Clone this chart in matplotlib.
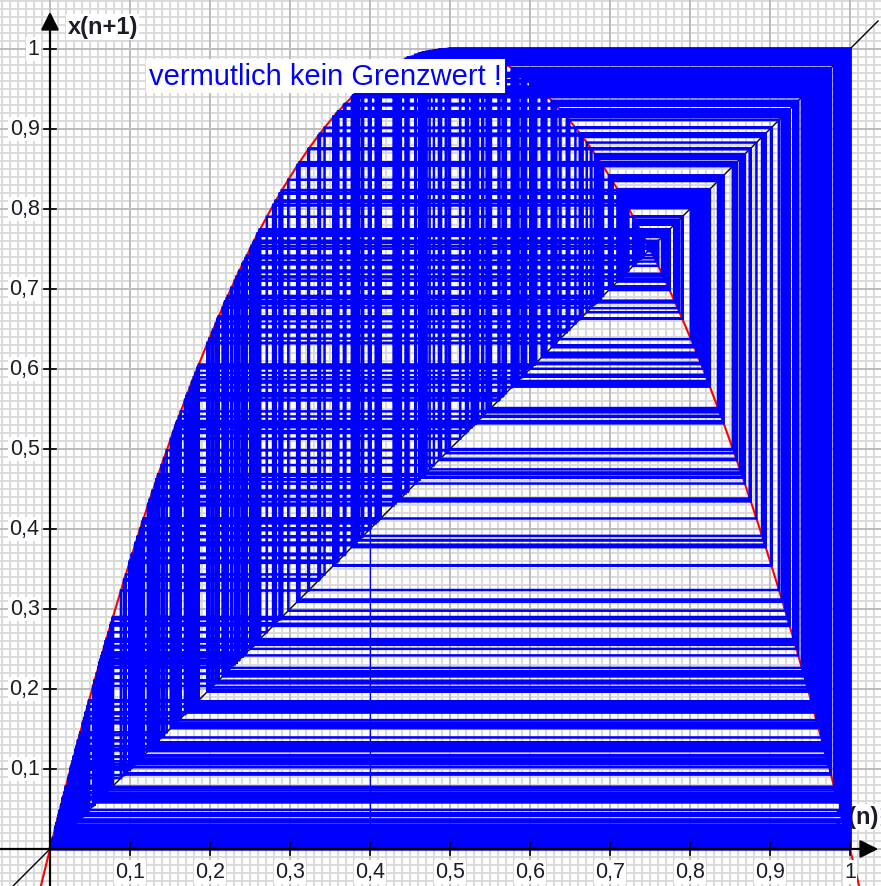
import numpy as np
import matplotlib

matplotlib.use('Agg')
import matplotlib.pyplot as plt

# logistic map x(n+1) = r * x(n) * (1 - x(n))
R = 4.0
X0 = 0.4
N_STEPS = 600

TICKS = [0.1, 0.2, 0.3, 0.4, 0.5, 0.6, 0.7, 0.8, 0.9, 1.0]
TICK_LABELS = ['0,1', '0,2', '0,3', '0,4', '0,5', '0,6', '0,7', '0,8', '0,9', '1']

XLIM = (-0.0625, 1.03875)
YLIM = (-0.04625, 1.0625)

BLUE = '#0000ff'
INK = '#1c1c28'


def f(x):
    return R * x * (1.0 - x)


def cobweb(x0, n):
    xs = [x0, x0]
    ys = [0.0, f(x0)]
    x = x0
    for _ in range(n):
        y = f(x)
        # horizontal to the diagonal, then vertical to the curve
        xs.append(y)
        ys.append(y)
        xs.append(y)
        ys.append(f(y))
        x = y
    return np.array(xs), np.array(ys)


def main():
    fig = plt.figure(figsize=(8.81, 8.87), dpi=100)
    ax = fig.add_axes([0, 0, 1, 1])
    ax.set_xlim(*XLIM)
    ax.set_ylim(*YLIM)
    ax.axis('off')

    # background grid: fine every 0.01, coarse every 0.1
    fine = np.arange(-0.06, 1.07, 0.01)
    for v in fine:
        ax.axvline(v, color='#dadada', lw=1.4, zorder=0)
        ax.axhline(v, color='#dadada', lw=1.4, zorder=0)
    for v in np.arange(-0.0, 1.05, 0.1):
        ax.axvline(v, color='#bdbdbd', lw=1.4, zorder=0.5)
        ax.axhline(v, color='#bdbdbd', lw=1.4, zorder=0.5)

    # diagonal and parabola
    ax.plot([XLIM[0], 1.035], [XLIM[0], 1.035], color='black', lw=1.0, zorder=2)
    xc = np.linspace(-0.07, 1.05, 600)
    ax.plot(xc, f(xc), color='red', lw=1.5, zorder=2)

    # cobweb
    xs, ys = cobweb(X0, N_STEPS)
    ax.plot(xs[:2], ys[:2], color=BLUE, lw=0.9, zorder=3)
    ax.plot(xs[1:], ys[1:], color=BLUE, lw=1.8, zorder=3,
            solid_joinstyle='miter')

    # axes with arrow heads
    ax.plot([XLIM[0], 1.02], [0, 0], color='black', lw=1.6, zorder=5)
    ax.plot([0, 0], [YLIM[0], 1.04], color='black', lw=1.6, zorder=5)
    ax.annotate('', xy=(XLIM[1], 0), xytext=(1.015, 0),
                arrowprops=dict(arrowstyle='-|>,head_length=1.1,head_width=0.55',
                                color='black', lw=1.6), zorder=6)
    ax.annotate('', xy=(0, 1.05), xytext=(0, 1.02),
                arrowprops=dict(arrowstyle='-|>,head_length=1.1,head_width=0.55',
                                color='black', lw=1.6), zorder=6)

    # tick marks and labels
    box = dict(facecolor='white', edgecolor='none', pad=1.0)
    for t, lab in zip(TICKS, TICK_LABELS):
        ax.plot([t, t], [-0.0075, 0.0075], color='black', lw=1.2, zorder=5)
        ax.plot([-0.0075, 0.0075], [t, t], color='black', lw=1.2, zorder=5)
        ax.text(t, -0.0285, lab, ha='center', va='center', fontsize=15.5,
                family='Liberation Sans', color=INK, bbox=box, zorder=4)
        ax.text(-0.013, t, lab, ha='right', va='center', fontsize=15.5,
                family='Liberation Sans', color=INK, bbox=box, zorder=4)

    ax.text(0.022, 1.0275, 'x(n+1)', ha='left', va='center', fontsize=17,
            fontweight='bold', family='Liberation Sans', color=INK,
            bbox=box, zorder=4)
    ax.text(1.036, 0.04, 'x(n)', ha='right', va='center', fontsize=17,
            fontweight='bold', family='Liberation Sans', color=INK,
            bbox=box, zorder=2.5)

    ax.text(0.124, 0.966, 'vermutlich kein Grenzwert !', ha='left', va='center',
            fontsize=21, family='Liberation Sans', color=BLUE,
            bbox=dict(facecolor='white', edgecolor='none', pad=2.0), zorder=7)

    fig.savefig('out.png', dpi=100)


if __name__ == '__main__':
    main()
